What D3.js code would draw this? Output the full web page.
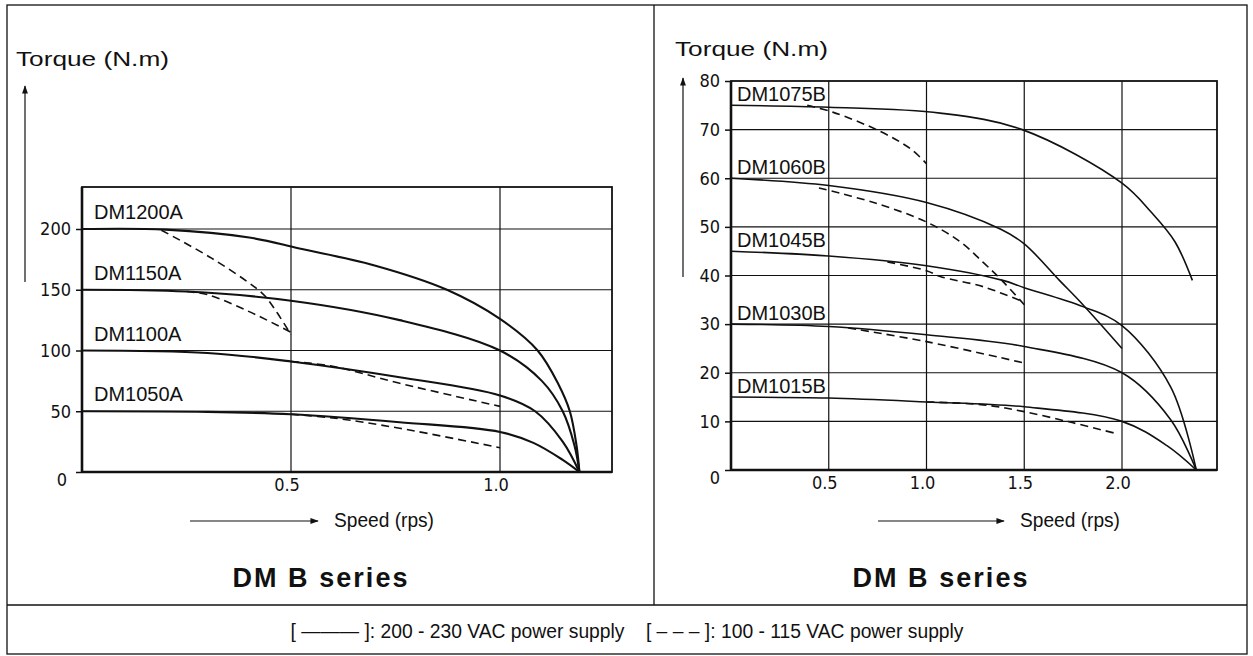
<!DOCTYPE html>
<html>
<head>
<meta charset="utf-8">
<script src="https://cdn.jsdelivr.net/npm/d3@7"></script>
<style>
  body { margin: 0; background: #fff; }
  svg text { fill: #111; }
  .tick-lbl { font-family: "Liberation Sans Narrow", "DejaVu Sans Condensed", sans-serif; font-stretch: condensed; font-size: 18px; }
  .model-lbl { font-family: "Liberation Sans", Arial, sans-serif; font-size: 20px; }
  .title-lbl { font-family: "Liberation Sans", Arial, sans-serif; font-size: 20px; }
</style>
</head>
<body>
<div id="chart"></div>
<script>
// ---- data: [speed (rps), torque (N.m)] ----
const leftModels = ["DM1200A", "DM1150A", "DM1100A", "DM1050A"];
const leftSolid = [
  [[0,200],[0.2,199.5],[0.4,193],[0.52,184],[0.7,170],[0.873,150],[1.0,126],[1.09,100],[1.14,72],[1.167,50],[1.183,22],[1.19,0]],
  [[0,150],[0.25,148.5],[0.5,141],[0.76,125],[1.0,100],[1.1,75],[1.15,50],[1.178,22],[1.19,0]],
  [[0,100],[0.3,98],[0.5,91],[0.76,78],[1.0,63],[1.084,50],[1.15,25],[1.19,0]],
  [[0,50],[0.3,49.5],[0.5,47.5],[0.76,41],[1.0,33],[1.08,24],[1.15,10],[1.19,0]]
];
const leftDashed = [
  [[0.19,199],[0.31,176],[0.41,153],[0.44,144],[0.5,113]],
  [[0.25,148.5],[0.3,146],[0.4,132],[0.5,115]],
  [[0.5,91],[0.6,87],[0.76,73],[1.0,54]],
  [[0.5,47.5],[0.6,44.5],[0.76,36],[1.0,20]]
];
const leftYTicks = [0, 50, 100, 150, 200];
const leftXTicks = [0.5, 1.0];
const leftXTickLabels = ["0.5", "1.0"];

const rightModels = ["DM1075B", "DM1060B", "DM1045B", "DM1030B", "DM1015B"];
const rightSolid = [
  [[0,75],[0.5,74.6],[1.07,73.4],[1.49,70],[2.0,59],[2.15,53],[2.27,47],[2.36,39]],
  [[0,60],[0.5,58.5],[1.0,55],[1.38,49.5],[1.5,46.5],[1.68,39],[1.8,34],[2.0,25]],
  [[0,45],[0.5,44],[1.0,42],[1.39,39],[1.5,37.5],[1.8,33.6],[2.0,29.7],[2.25,17],[2.38,0]],
  [[0,30],[0.5,29.5],[1.0,27.8],[1.5,25.4],[2.0,20],[2.25,10.3],[2.38,0]],
  [[0,15],[0.5,14.8],[1.0,14],[1.5,13],[2.0,10],[2.23,5],[2.38,0]]
];
const rightDashed = [
  [[0.39,75],[0.52,73.6],[0.76,69.7],[0.92,66],[1.0,63]],
  [[0.45,58],[0.73,55],[1.0,51],[1.17,47],[1.29,42.7],[1.39,38.8],[1.5,34]],
  [[0.8,42.8],[1.0,41],[1.07,39.8],[1.29,37.7],[1.5,34.5]],
  [[0.6,29.2],[1.0,26.4],[1.5,22]],
  [[1.0,14],[1.29,13.4],[1.5,12],[1.75,9.7],[1.97,7.5]]
];
const rightYTicks = [0, 10, 20, 30, 40, 50, 60, 70, 80];
const rightXTicks = [0.5, 1.0, 1.5, 2.0];
const rightXTickLabels = ["0.5", "1.0", "1.5", "2.0"];

const yTitle = "Torque (N.m)";
const xTitle = "Speed (rps)";
const seriesTitle = "DM B series";
const legendText = "[ ——— ]: 200 - 230 VAC power supply    [ – – – ]: 100 - 115 VAC power supply";

const W = 1253, H = 656;
const ink = "#111";

const svg = d3.select("#chart").append("svg")
  .attr("width", W).attr("height", H);

svg.append("defs").append("marker")
  .attr("id", "arrow")
  .attr("viewBox", "0 0 10 10")
  .attr("refX", 9).attr("refY", 5)
  .attr("markerWidth", 7).attr("markerHeight", 7)
  .attr("orient", "auto-start-reverse")
  .append("path").attr("d", "M0,1.5 L10,5 L0,8.5 Z").attr("fill", ink);

// outer frame and panel dividers
svg.append("rect").attr("x", 7).attr("y", 5).attr("width", 1240).attr("height", 649)
  .attr("fill", "none").attr("stroke", ink).attr("stroke-width", 1.3);
svg.append("line").attr("x1", 7).attr("x2", 1247).attr("y1", 605).attr("y2", 605)
  .attr("stroke", ink).attr("stroke-width", 1.3);
svg.append("line").attr("x1", 654).attr("x2", 654).attr("y1", 5).attr("y2", 605)
  .attr("stroke", ink).attr("stroke-width", 1.3);

function drawPanel(cfg) {
  const x = d3.scaleLinear().domain(cfg.xDomain).range([cfg.left, cfg.right]);
  const y = d3.scaleLinear().domain(cfg.yDomain).range([cfg.bottom, cfg.top]);
  const g = svg.append("g");

  // grid
  g.selectAll(".hgrid").data(cfg.yTicks.filter(d => d > 0 && d < cfg.yDomain[1]))
    .join("line")
    .attr("x1", cfg.left).attr("x2", cfg.right)
    .attr("y1", d => y(d)).attr("y2", d => y(d))
    .attr("stroke", ink).attr("stroke-width", 1.2);
  g.selectAll(".vgrid").data(cfg.xTicks)
    .join("line")
    .attr("x1", d => x(d)).attr("x2", d => x(d))
    .attr("y1", cfg.top).attr("y2", cfg.bottom)
    .attr("stroke", ink).attr("stroke-width", 1.2);

  // frame
  g.append("rect")
    .attr("x", cfg.left).attr("y", cfg.top)
    .attr("width", cfg.right - cfg.left).attr("height", cfg.bottom - cfg.top)
    .attr("fill", "none").attr("stroke", ink).attr("stroke-width", 1.8);
  g.append("line").attr("x1", cfg.left).attr("x2", cfg.left).attr("y1", cfg.top).attr("y2", cfg.bottom)
    .attr("stroke", ink).attr("stroke-width", 2.6);
  g.append("line").attr("x1", cfg.left).attr("x2", cfg.right).attr("y1", cfg.bottom).attr("y2", cfg.bottom)
    .attr("stroke", ink).attr("stroke-width", 2.4);

  // y axis ticks
  const yAxis = d3.axisLeft(y).tickValues(cfg.yTicks).tickSize(6).tickPadding(5)
    .tickFormat(d => d === 0 ? "" : d);
  const ya = g.append("g").attr("transform", `translate(${cfg.left},0)`).call(yAxis);
  ya.select(".domain").remove();
  ya.selectAll("line").attr("stroke", ink).attr("stroke-width", 1.5);
  ya.selectAll("text").attr("class", "tick-lbl").attr("fill", ink).attr("font-size", null).attr("font-family", null);
  g.append("text").attr("class", "tick-lbl")
    .attr("x", cfg.zeroX).attr("y", cfg.bottom + 14).attr("text-anchor", "middle").text("0");

  // x tick labels
  g.selectAll(".xlbl").data(cfg.xTicks)
    .join("text").attr("class", "tick-lbl")
    .attr("x", d => x(d) - 4).attr("y", cfg.bottom + 19)
    .attr("text-anchor", "middle")
    .text((d, i) => cfg.xTickLabels[i]);

  const line = d3.line().x(d => x(d[0])).y(d => y(d[1])).curve(d3.curveCatmullRom.alpha(0.5));

  g.selectAll(".dash").data(cfg.dashed)
    .join("path")
    .attr("d", line).attr("fill", "none")
    .attr("stroke", ink).attr("stroke-width", 1.6)
    .attr("stroke-dasharray", "8,5");
  g.selectAll(".solid").data(cfg.solid)
    .join("path")
    .attr("d", line).attr("fill", "none")
    .attr("stroke", ink).attr("stroke-width", cfg.curveWidth);

  // model labels
  g.selectAll(".model").data(cfg.models)
    .join("text").attr("class", "model-lbl")
    .attr("x", cfg.left + cfg.labelDx)
    .attr("y", (d, i) => y(cfg.solid[i][0][1]) - cfg.labelDy)
    .text(d => d);

  // y title + arrow
  g.append("text").attr("class", "title-lbl")
    .attr("x", cfg.yTitleX).attr("y", cfg.yTitleY)
    .attr("textLength", 153).attr("lengthAdjust", "spacingAndGlyphs")
    .text(yTitle);
  g.append("line")
    .attr("x1", cfg.yArrowX).attr("x2", cfg.yArrowX)
    .attr("y1", cfg.yArrowY[0]).attr("y2", cfg.yArrowY[1])
    .attr("stroke", ink).attr("stroke-width", 1.2)
    .attr("marker-end", "url(#arrow)");

  // x title + arrow
  g.append("line")
    .attr("x1", cfg.xArrow[0]).attr("x2", cfg.xArrow[1])
    .attr("y1", cfg.xTitleY - 6).attr("y2", cfg.xTitleY - 6)
    .attr("stroke", ink).attr("stroke-width", 1.2)
    .attr("marker-end", "url(#arrow)");
  g.append("text").attr("class", "title-lbl")
    .attr("x", cfg.xArrow[1] + 16).attr("y", cfg.xTitleY)
    .attr("textLength", 100).attr("lengthAdjust", "spacingAndGlyphs")
    .text(xTitle);

  // series title
  g.append("text")
    .attr("x", cfg.seriesX).attr("y", 587)
    .attr("text-anchor", "middle")
    .attr("font-family", "Liberation Sans, Arial, sans-serif")
    .attr("font-size", 27).attr("font-weight", "bold")
    .attr("textLength", 175).attr("lengthAdjust", "spacing")
    .text(seriesTitle);
}

drawPanel({
  left: 82, right: 612, top: 187, bottom: 472,
  xDomain: [0, (612 - 82) / 418], yDomain: [0, (472 - 187) / 1.215],
  yTicks: leftYTicks, xTicks: leftXTicks, xTickLabels: leftXTickLabels,
  solid: leftSolid, dashed: leftDashed, models: leftModels,
  labelDx: 12, labelDy: 10, curveWidth: 2.1, zeroX: 62,
  yTitleX: 16, yTitleY: 66, yArrowX: 25, yArrowY: [282, 86],
  xArrow: [190, 318], xTitleY: 527, seriesX: 320
});

drawPanel({
  left: 731, right: 1217, top: 81, bottom: 470,
  xDomain: [0, (1217 - 731) / 195.5], yDomain: [0, 80],
  yTicks: rightYTicks, xTicks: rightXTicks, xTickLabels: rightXTickLabels,
  solid: rightSolid, dashed: rightDashed, models: rightModels,
  labelDx: 6, labelDy: 4, curveWidth: 1.6, zeroX: 715,
  yTitleX: 675, yTitleY: 56, yArrowX: 683, yArrowY: [277, 78],
  xArrow: [878, 1004], xTitleY: 527, seriesX: 940
});

// legend
svg.append("text")
  .attr("x", 627).attr("y", 638)
  .attr("text-anchor", "middle")
  .attr("font-family", "Liberation Sans, Arial, sans-serif")
  .attr("font-size", 19.3)
  .style("white-space", "pre")
  .text(legendText);
</script>
</body>
</html>
